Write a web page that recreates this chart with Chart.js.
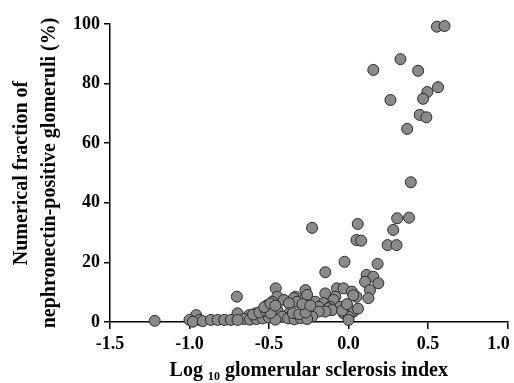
<!DOCTYPE html>
<html><head><meta charset="utf-8">
<script src="https://cdn.jsdelivr.net/npm/chart.js@4"></script>
<style>html,body{margin:0;padding:0;background:#fff}#wrap{width:514px;height:383px}</style>
</head><body><div id="wrap"><canvas id="c" width="514" height="383"></canvas></div>
<script>
// Log10 glomerular sclerosis index (x) and nephronectin-positive fraction in % (y)
const logIndex = [
  0.556, 0.604, 0.327, 0.156, 0.438, 0.563, 0.496, 0.469, 0.264, 0.448, 0.490, 0.369,
  0.392, 0.381, 0.306, 0.058, 0.281, -0.229, 0.050, 0.080, 0.246, 0.302,
  -0.025, 0.183, -0.146, 0.114, 0.156, 0.104, 0.188, -0.458, -0.073, -0.031, 0.135, -0.271,
  0.021, -0.146, -0.260, -0.448, -0.333, -0.083, -0.702, 0.125, -0.344, -0.094, -0.406,
  -0.323, -0.479, -0.208, -0.375, -0.156, -0.510, -0.271, -0.052, -0.188, -0.115, -0.125,
  -0.104, -0.448, 0.031, 0.025, -0.146, -0.542, -0.188, -0.031, -0.583, -0.698, -0.375,
  -0.958, -0.625, 0.000, -0.417, -0.229, -0.656, -1.219, -1.000, -0.938, -0.979, -0.917,
  -0.865, -0.823, -0.781, -0.740, -0.698, 0.000,
  -0.620, -0.580, -0.540, -0.500, -0.460, -0.380, -0.340, -0.300, -0.260,
  -0.600, -0.560, -0.520, -0.490, -0.350, -0.310, -0.270, -0.530, -0.490, -0.460, -0.290, -0.240,
  -0.040, 0.060, 0.050, -0.010, 0.030
];
const fraction = [
  99.1, 99.3, 88.2, 84.6, 84.3, 78.8, 77.2, 74.9, 74.5, 69.5, 68.7, 64.8,
  46.9, 35.0, 34.8, 32.9, 30.9, 31.6, 27.5, 27.3, 25.8, 25.8,
  20.2, 19.5, 16.7, 15.8, 15.2, 13.5, 13.0, 11.3, 11.3, 11.3, 10.7, 10.7,
  10.2, 9.6, 9.1, 8.5, 8.5, 8.5, 8.5, 8.0, 8.0, 7.4, 7.4,
  6.8, 6.8, 6.8, 6.3, 6.3, 5.7, 5.7, 5.1, 5.1, 5.1, 4.6,
  4.0, 4.0, 3.5, 3.5, 3.5, 3.5, 3.5, 2.9, 2.9, 2.9, 2.9,
  2.3, 2.3, 1.8, 1.8, 1.8, 1.0, 0.4, 0.7, 0.7, 0.1, 0.3,
  0.7, 0.7, 0.7, 0.7, 0.7, 0.7,
  0.8, 1.0, 1.2, 1.5, 0.8, 1.2, 0.9, 1.3, 1.0,
  2.5, 3.2, 3.8, 3.0, 3.0, 2.6, 3.2, 5.0, 6.2, 5.5, 6.0, 5.5,
  3.8, 4.5, 8.5, 6.0, 9.0
];
const xTicks = [-1.5, -1.0, -0.5, 0.0, 0.5, 1.0];
const yTicks = [0, 20, 40, 60, 80, 100];
const xTitle = 'Log \u2081\u2080 glomerular sclerosis index';
const yTitle = ['Numerical fraction of', 'nephronectin-positive glomeruli (%)'];

const points = logIndex.map((x, i) => ({ x: x, y: fraction[i] }));
const serif = 'Liberation Serif, Times New Roman, serif';
const xMax = xTicks[xTicks.length - 1];

new Chart(document.getElementById('c'), {
  type: 'scatter',
  data: {
    datasets: [{
      data: points,
      backgroundColor: '#8a8a8a',
      borderColor: '#2a2a2a',
      borderWidth: 1,
      pointRadius: 5.5,
      pointHoverRadius: 5.5,
      clip: false
    }]
  },
  options: {
    responsive: false,
    animation: false,
    layout: { padding: { top: 24, right: 6, bottom: 0, left: 0 } },
    plugins: { legend: { display: false }, tooltip: { enabled: false } },
    scales: {
      x: {
        type: 'linear',
        min: xTicks[0],
        max: xMax,
        afterBuildTicks: s => { s.ticks = xTicks.map(v => ({ value: v })); },
        ticks: {
          // the last label keeps inside the page edge, as in the figure
          callback: v => Number(v).toFixed(1) + (v === xMax ? '\u2002\u2002' : ''),
          font: { family: serif, weight: 'bold', size: 18 },
          color: '#000', padding: 5, maxRotation: 0, autoSkip: false
        },
        grid: { drawOnChartArea: false, drawTicks: true, tickLength: 7, color: '#000', lineWidth: 1.5 },
        border: { display: true, color: '#000', width: 1.5 },
        title: {
          display: true, text: xTitle, color: '#000',
          font: { family: serif, weight: 'bold', size: 20 },
          padding: { top: 0, bottom: 0 }
        },
        afterFit: s => { s.height = 61; s.paddingLeft = 0; s.paddingRight = 0; }
      },
      y: {
        type: 'linear',
        min: yTicks[0],
        max: yTicks[yTicks.length - 1],
        afterBuildTicks: s => { s.ticks = yTicks.map(v => ({ value: v })); },
        ticks: {
          callback: v => String(v),
          font: { family: serif, weight: 'bold', size: 18 },
          color: '#000', padding: 4
        },
        grid: { drawOnChartArea: false, drawTicks: true, tickLength: 6, color: '#000', lineWidth: 1.5 },
        border: { display: true, color: '#000', width: 1.5 },
        title: {
          display: true, text: yTitle, color: '#000',
          font: { family: serif, weight: 'bold', size: 20, lineHeight: 1.4 },
          padding: { top: 8, bottom: 0 }
        },
        afterFit: s => { s.width = 110; }
      }
    }
  }
});
</script>
</body></html>
